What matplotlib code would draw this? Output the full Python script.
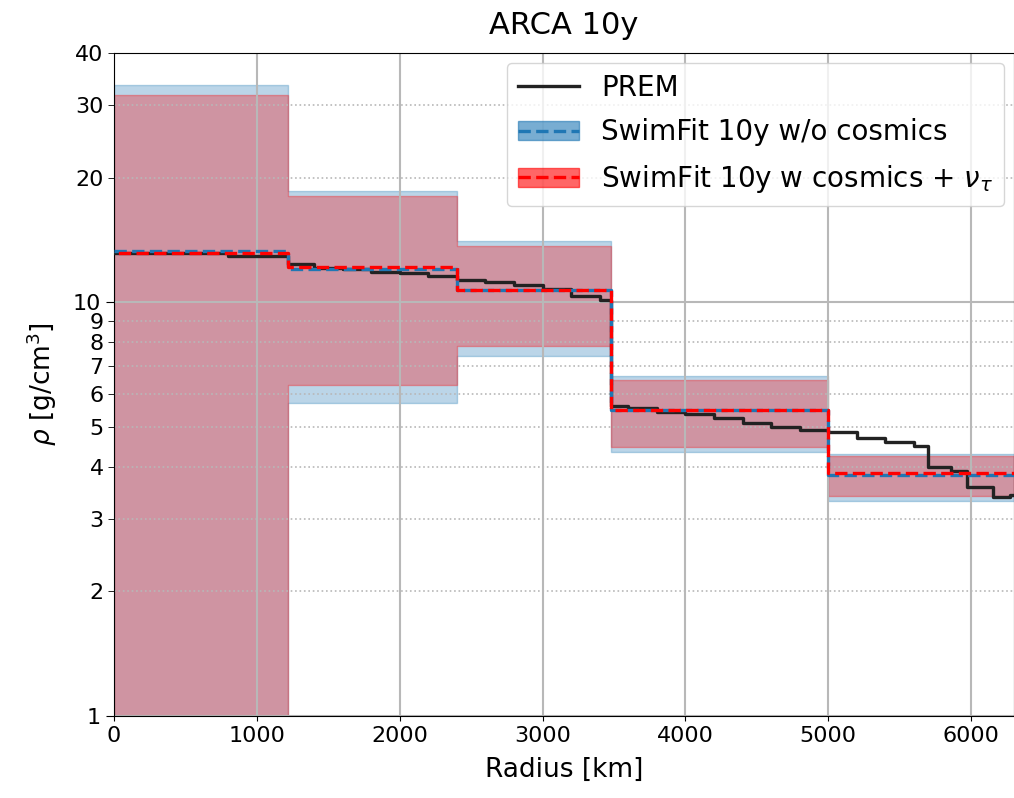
import matplotlib
matplotlib.use("Agg")
import matplotlib.pyplot as plt
from matplotlib.patches import Patch
from matplotlib.lines import Line2D
from matplotlib.ticker import FixedLocator

# ---- data ----
bin_edges = [0, 1221.5, 2400, 3480, 5000, 6300]
blue_center = [13.28, 12.0, 10.69, 5.49, 3.82]
blue_upper = [33.5, 18.6, 14.05, 6.63, 4.30]
blue_lower = [0.5, 5.70, 7.41, 4.34, 3.31]
red_center = [13.14, 12.16, 10.69, 5.49, 3.87]
red_upper = [31.7, 18.0, 13.7, 6.48, 4.25]
red_lower = [0.6, 6.30, 7.83, 4.47, 3.40]

prem_edges = [0, 800, 1221.5, 1400, 1600, 1800, 2000, 2200, 2400, 2600, 2800,
              3000, 3200, 3400, 3480, 3600, 3800, 4000, 4200, 4400, 4600, 4800,
              5000, 5200, 5400, 5600, 5701, 5860, 5971, 6151, 6271, 6371]
prem_rho = [13.12, 12.95, 12.34, 12.12, 12.0, 11.84, 11.73, 11.58, 11.31, 11.16,
            11.0, 10.75, 10.37, 10.12, 5.62, 5.56, 5.43, 5.36, 5.24, 5.11, 5.00,
            4.90, 4.85, 4.69, 4.58, 4.48, 4.00, 3.90, 3.57, 3.38, 3.42]

x_ticks = [0, 1000, 2000, 3000, 4000, 5000, 6000]
y_major = [1, 10]
y_minor = [2, 3, 4, 5, 6, 7, 8, 9, 20, 30, 40]

fig = plt.figure(figsize=(10.14, 7.98), dpi=100)
ax = fig.add_axes([0.1124, 0.1028, 0.8876, 0.8308])
ax.set_yscale("log")

def ext(v):
    return list(v) + [v[-1]]

ax.fill_between(bin_edges, ext(blue_lower), ext(blue_upper), step="post",
                color="C0", alpha=0.3)
ax.fill_between(bin_edges, ext(red_lower), ext(red_upper), step="post",
                color="red", alpha=0.3)

ax.step(prem_edges, ext(prem_rho), where="post", color="#222222", lw=2.4, zorder=3)
ax.step(bin_edges, ext(blue_center), where="post", color="C0", lw=2.4,
        linestyle="--", zorder=4)
ax.step(bin_edges, ext(red_center), where="post", color="red", lw=2.4,
        linestyle=(4, (3.7, 1.6)), zorder=5)

ax.set_xlim(0, 6300)
ax.set_ylim(1, 40)

ax.xaxis.set_major_locator(FixedLocator(x_ticks))
ax.yaxis.set_major_locator(FixedLocator(y_major))
ax.yaxis.set_minor_locator(FixedLocator(y_minor))
ax.set_yticklabels([str(v) for v in y_major])
ax.set_yticklabels([str(v) for v in y_minor], minor=True)

ax.tick_params(axis="both", which="both", labelsize=16)
ax.tick_params(axis="y", which="major", length=6)
ax.tick_params(axis="y", which="minor", length=4)

ax.grid(True, which="major", axis="both", color="#b8b8b8", lw=1.5)
ax.grid(True, which="minor", axis="y", color="#b8b8b8", lw=1.2, linestyle=":")

ax.set_xlabel("Radius [km]", fontsize=19, labelpad=8)
ax.set_ylabel(r"$\rho$ [g/cm$^3$]", fontsize=19, labelpad=10)
ax.set_title("ARCA 10y", fontsize=22, pad=14)

handles = [
    Line2D([], [], color="#222222", lw=2.4),
    (Patch(facecolor="C0", edgecolor="C0", alpha=0.6),
     Line2D([], [], color="C0", lw=2.4, linestyle="--")),
    (Patch(facecolor="red", edgecolor="red", alpha=0.6),
     Line2D([], [], color="red", lw=2.4, linestyle="--")),
]
labels = ["PREM", "SwimFit 10y w/o cosmics", r"SwimFit 10y w cosmics + $\nu_\tau$"]
ax.legend(handles, labels, loc="upper right", fontsize=20, handlelength=2.2,
          labelspacing=0.6, borderaxespad=0.35, framealpha=0.8)

fig.savefig("out.png", dpi=100)
